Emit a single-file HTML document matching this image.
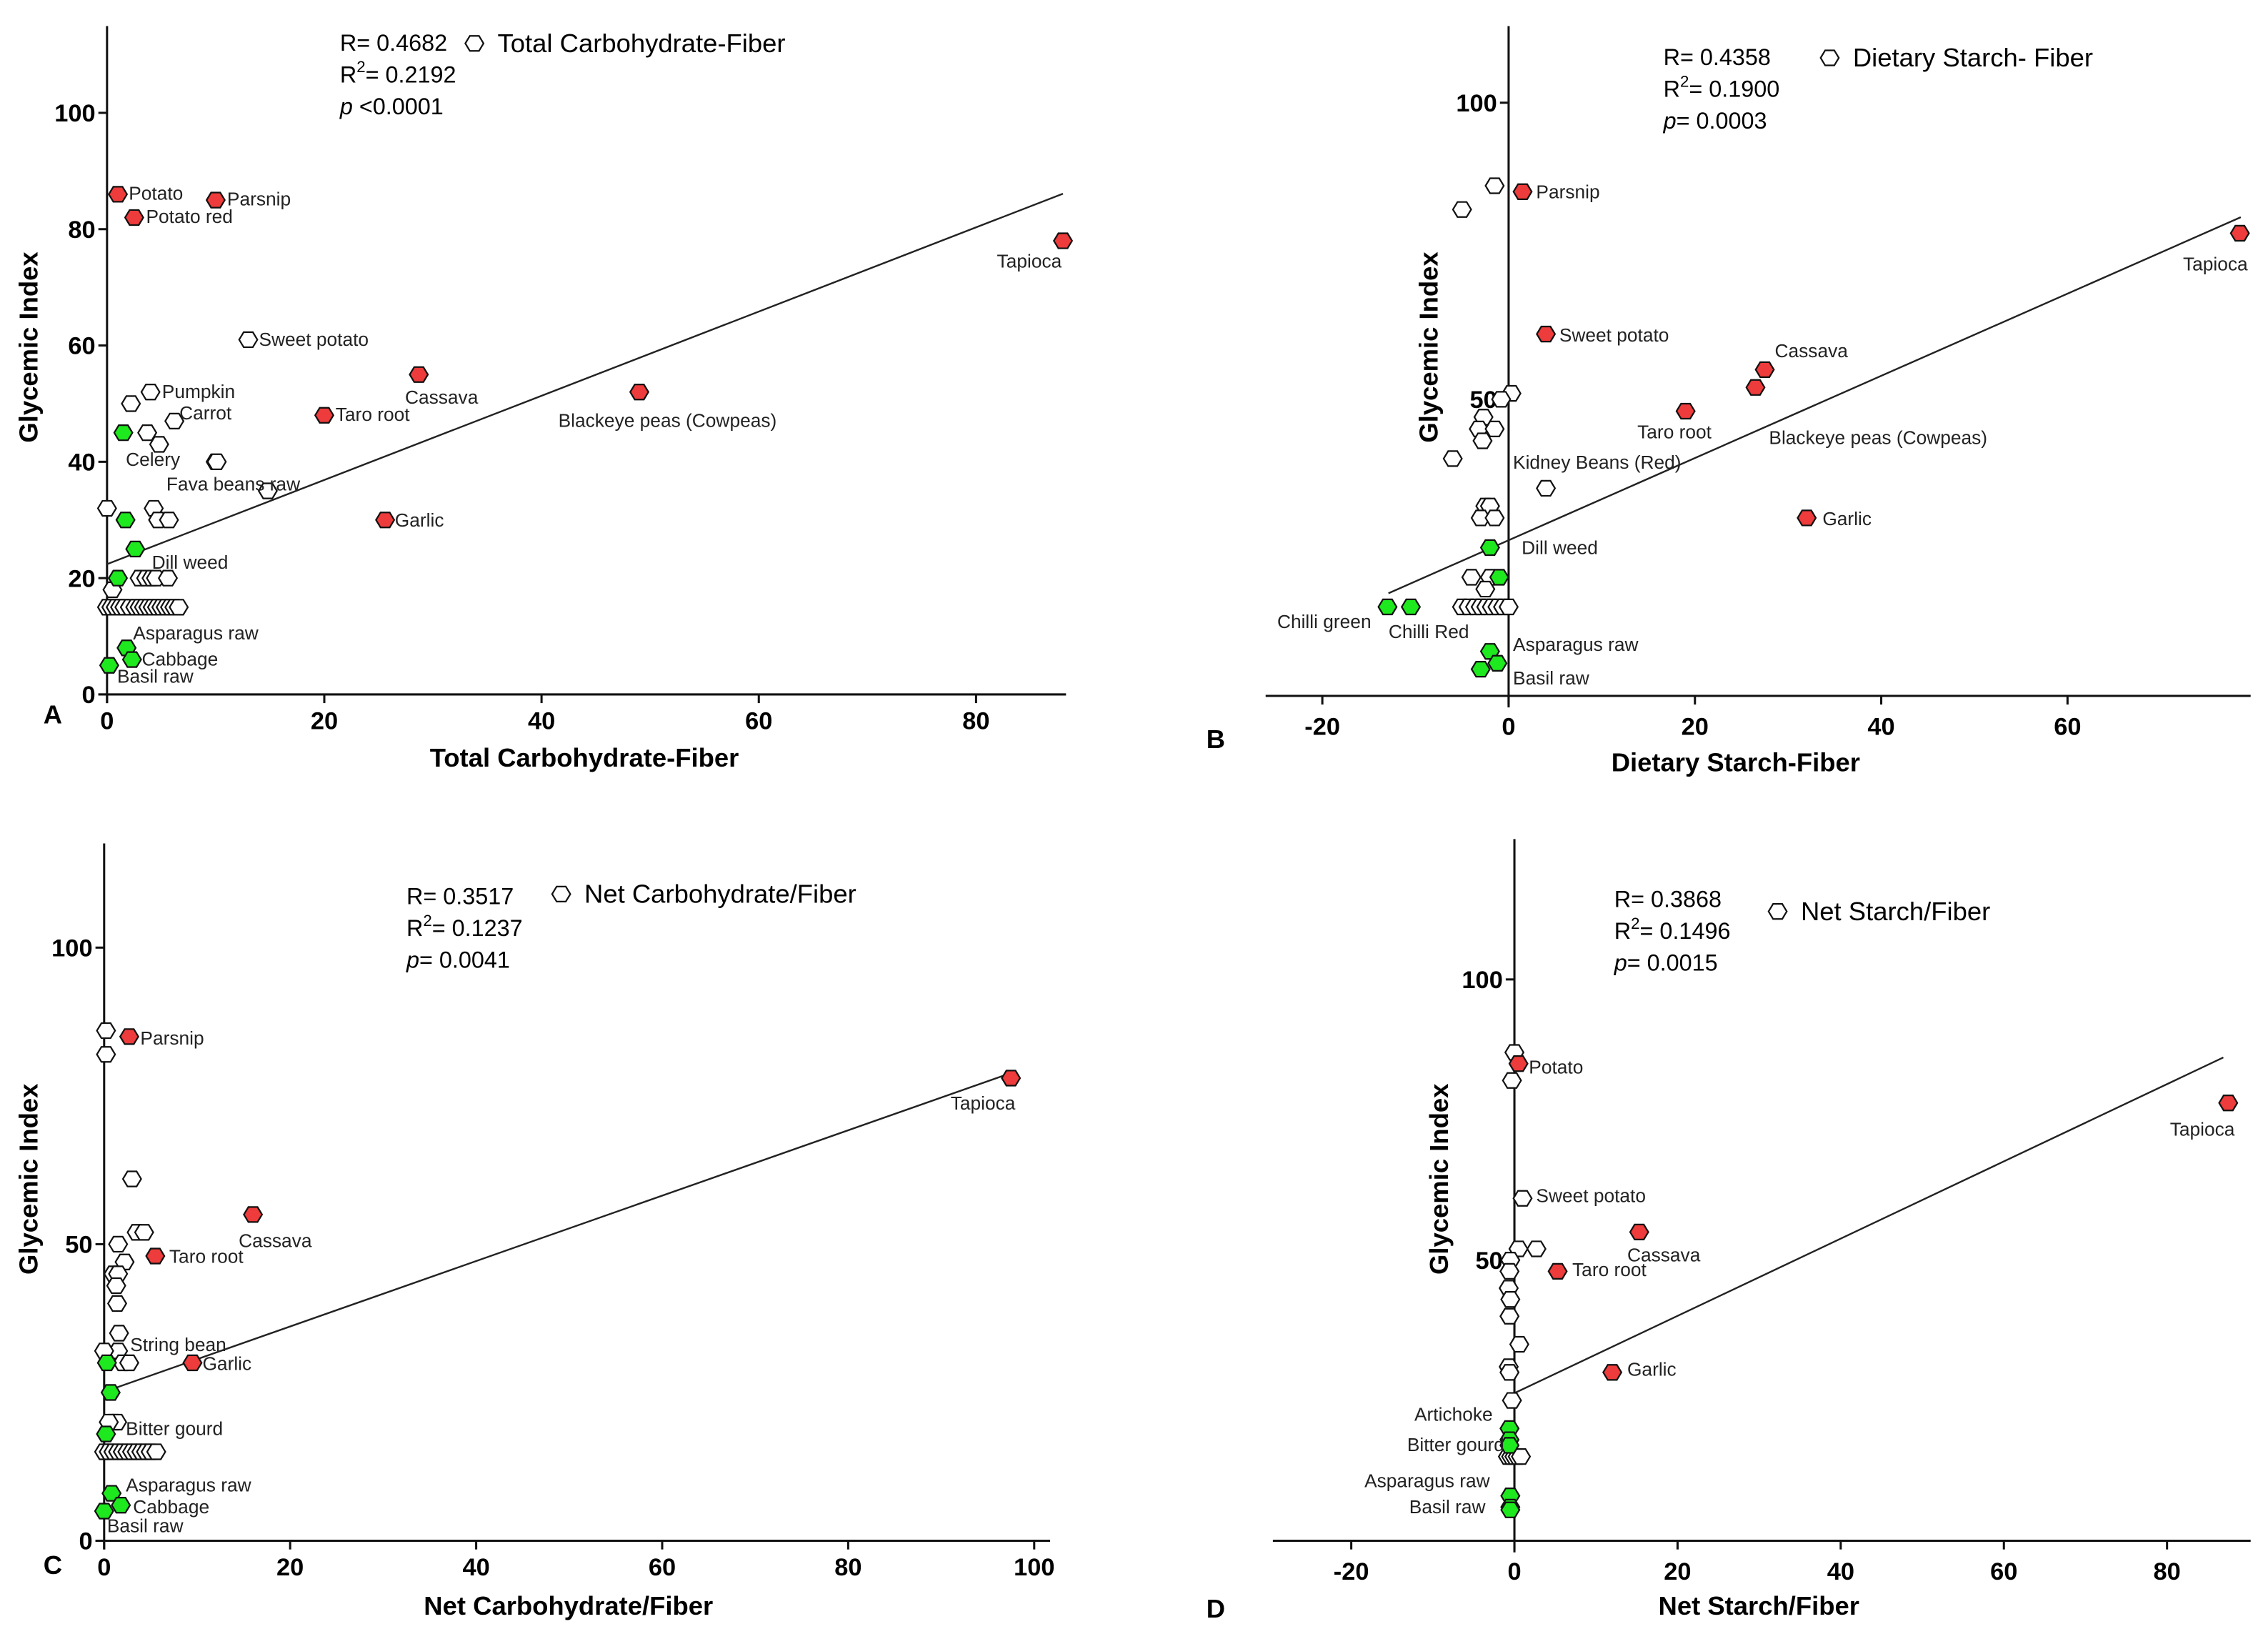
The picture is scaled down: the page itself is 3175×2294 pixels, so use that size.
<!DOCTYPE html>
<html><head><meta charset="utf-8"><style>
html,body{margin:0;padding:0;background:#fff}
svg{display:block}
text{font-family:"Liberation Sans",Arial,sans-serif}
</style></head><body>
<svg id="fig" width="3175" height="2294" viewBox="0 0 1568 1132.9" xmlns="http://www.w3.org/2000/svg"></svg>
<script>
// ---------- DATA ----------
// Panel A: Total Carbohydrate-Fiber
const aRedX=[1,2.5,10,88,28.7,49,20,25.6];
const aRedY=[86,82,85,78,55,52,48,30];
const aRedLbl=["Potato","Potato red","Parsnip","Tapioca","Cassava","Blackeye peas (Cowpeas)","Taro root","Garlic"];
const aWhiteX=[13,4,2.2,6.2,3.7,4.8,10,10.1,14.8,0,4.3,4.7,5.7,0.5,3,3.6,4.1,4.5,5.6,0,0.4,0.8,1.2,1.6,2.1,2.6,3,3.4,3.8,4.2,4.6,5,5.4,5.8,6.2,6.6];
const aWhiteY=[61,52,50,47,45,43,40,40,35,32,32,30,30,18,20,20,20,20,20,15,15,15,15,15,15,15,15,15,15,15,15,15,15,15,15,15];
const aGreenX=[1.5,1.7,2.6,1,1.8,2.3,0.2];
const aGreenY=[45,30,25,20,8,6,5];
const aStats=["R= 0.4682","0.2192","p <0.0001","Total Carbohydrate-Fiber"];
// Panel B: Dietary Starch-Fiber
const bRedX=[1.5,78.5,4,27.5,26.5,19,32];
const bRedY=[85,78,61,55,52,48,30];
const bWhiteX=[-1.5,-5,0.3,-0.8,-2.7,-3.2,-1.5,-2.8,-6,4,-2.5,-2,-3,-1.5,-4,-2,-2.5,-5,-4.3,-3.6,-3,-2.4,-1.8,-1.2,-0.6,0];
const bWhiteY=[86,82,51,50,47,45,45,43,40,35,32,32,30,30,20,20,18,15,15,15,15,15,15,15,15,15];
const bGreenX=[-13,-10.5,-2,-1,-2,-1.2,-3];
const bGreenY=[15,15,25,20,7.5,5.5,4.5];
const bStats=["R= 0.4358","0.1900","p= 0.0003","Dietary Starch- Fiber"];
// Panel C: Net Carbohydrate/Fiber
const cRedX=[2.7,97.5,16,5.5,9.5];
const cRedY=[85,78,55,48,30];
const cWhiteX=[0.2,0.2,3,3.5,4.3,1.5,2.2,1,1.5,1.3,1.4,1.6,1.5,0,2,2.7,1,1.4,0.5,0,0.5,1,1.5,2,2.5,3,3.5,4,4.5,5,5.6];
const cWhiteY=[86,82,61,52,52,50,47,45,45,43,40,35,32,32,30,30,20,20,20,15,15,15,15,15,15,15,15,15,15,15,15];
const cGreenX=[0.3,0.7,0.2,0.8,1.8,0];
const cGreenY=[30,25,18,8,6,5];
const cStats=["R= 0.3517","0.1237","p= 0.0041","Net Carbohydrate/Fiber"];
// Panel D: Net Starch/Fiber
const dRedX=[0.5,87.5,15.3,5.3,12];
const dRedY=[85,78,55,48,30];
const dWhiteX=[0,-0.3,1,0.5,2.7,-0.5,-0.6,-0.7,-0.5,-0.6,0.6,-0.7,-0.6,-0.3,-0.8,-0.4,0,0.4,0.8];
const dWhiteY=[87,82,61,52,52,50,48,45,43,40,35,31,30,25,15,15,15,15,15];
const dGreenX=[-0.6,-0.6,-0.6,-0.5,-0.5,-0.5];
const dGreenY=[20,18,17,8,6,5.5];
const dStats=["R= 0.3868","0.1496","p= 0.0015","Net Starch/Fiber"];
// regression lines [x0,y0,x1,y1]
const aFit=[0,22.4,88,86.1], bFit=[-12.9,17.3,78.6,80.7], cFit=[0,25.1,97.4,78.8], dFit=[0,26.3,86.9,86.1];

// ---------- DRAW ----------
const NS="http://www.w3.org/2000/svg";
const svg=document.getElementById('fig');
function mk(tag,attrs,parent,txt){const e=document.createElementNS(NS,tag);for(const k in attrs)e.setAttribute(k,attrs[k]);if(txt!==undefined)e.textContent=txt;(parent||svg).appendChild(e);return e;}
function hex(cx,cy,fill,g){const rx=6.3,ry=5.2;const p=[[cx-rx,cy],[cx-rx/2,cy-ry],[cx+rx/2,cy-ry],[cx+rx,cy],[cx+rx/2,cy+ry],[cx-rx/2,cy+ry]].map(q=>q.join(',')).join(' ');
 const e=mk('polygon',{points:p,fill:fill,stroke:'#111','stroke-width':1.1},g);return e;}

function panel(cfg){
 const g=mk('g',{});
 
 
 const sx=v=>cfg.x0px+(v-cfg.xzero)*cfg.kx;
 const sy=v=>cfg.y0px-v*cfg.ky;
 const xa=mk('line',{x1:cfg.xaxL,y1:cfg.y0px,x2:cfg.xaxR,y2:cfg.y0px,stroke:'#111','stroke-width':1.5},g);
 
 const ya=mk('line',{x1:sx(0),y1:cfg.yaxT,x2:sx(0),y2:cfg.y0px+(cfg.yExt||0),stroke:'#111','stroke-width':1.5},g);
 
 cfg.xt.forEach(t=>{const X=sx(t);mk('line',{x1:X,y1:cfg.y0px,x2:X,y2:cfg.y0px+6,stroke:'#111','stroke-width':1.5},g);
   const tl=mk('text',{x:X,y:cfg.y0px+cfg.xtdy,'text-anchor':'middle','font-size':17,'font-weight':'bold'},g,String(t));
   });
 cfg.yt.forEach(t=>{const Y=sy(t);const X0=sx(0);mk('line',{x1:X0-6,y1:Y,x2:X0,y2:Y,stroke:'#111','stroke-width':1.5},g);
   const tl=mk('text',{x:X0-8,y:Y+6,'text-anchor':'end','font-size':17,'font-weight':'bold'},g,String(t));
   });
 const f=cfg.fit;
 const rl=mk('line',{x1:sx(f[0]),y1:sy(f[1]),x2:sx(f[2]),y2:sy(f[3]),stroke:'#222','stroke-width':1.2},g);
 
 cfg.wx.forEach((v,i)=>{const h=hex(sx(v),sy(cfg.wy[i]),'#fff',g);});
 cfg.gx.forEach((v,i)=>{const h=hex(sx(v),sy(cfg.gy[i]),'#1ee81e',g);});
 cfg.rx.forEach((v,i)=>{const h=hex(sx(v),sy(cfg.ry[i]),'#ee3b3b',g);});
 cfg.labels.forEach(l=>{const t=mk('text',{x:l[1],y:l[2],'font-size':13,'text-anchor':l[3]||'start',fill:'#222'},g,l[0]);
   });
 const s=cfg.stats,sp=cfg.statPos;
 let t=mk('text',{x:sp[0],y:sp[1],'font-size':16},g,s[0]);
 t=mk('text',{x:sp[0],y:sp[1]+22,'font-size':16},g);
 mk('tspan',{},t,'R');mk('tspan',{'font-size':11,dy:-7},t,'2');mk('tspan',{dy:7},t,'= '+s[1]);
 t=mk('text',{x:sp[0],y:sp[1]+44,'font-size':16},g);
 const pp=s[2].split(' ');mk('tspan',{'font-style':'italic'},t,pp[0].replace('=',''));mk('tspan',{},t,(s[2].indexOf('=')>0?'= ':' ')+pp.slice(1).join(' '));
 const lh=hex(sp[2],sp[3],'#fff',g);
 t=mk('text',{x:sp[2]+16,y:sp[3]+6,'font-size':18},g,s[3]);
 t=mk('text',{x:cfg.xtitle[0],y:cfg.xtitle[1],'text-anchor':'middle','font-size':18,'font-weight':'bold'},g,cfg.xtitle[2]);
 
 t=mk('text',{x:0,y:0,'text-anchor':'middle','font-size':18,'font-weight':'bold',transform:`translate(${cfg.ytitle[0]},${cfg.ytitle[1]}) rotate(-90)`},g,'Glycemic Index');
 
 t=mk('text',{x:cfg.letter[0],y:cfg.letter[1],'font-size':18,'font-weight':'bold'},g,cfg.id);
 
}

panel({id:'A',xzero:0,x0px:74,kx:7.51,y0px:480,ky:4.02,xaxL:68,xaxR:737,yaxT:18,yExt:6,xtdy:24,
 xt:[0,20,40,60,80],yt:[0,20,40,60,80,100],fit:aFit,rx:aRedX,ry:aRedY,wx:aWhiteX,wy:aWhiteY,gx:aGreenX,gy:aGreenY,
 labels:[["Potato",89,138],["Potato red",101,154],["Parsnip",157,142],["Tapioca",734,185,'end'],["Cassava",280,279],["Blackeye peas (Cowpeas)",386,295],["Taro root",232,291],["Garlic",273,364],
  ["Sweet potato",179,239],["Pumpkin",112,275],["Carrot",124,290],["Celery",87,322],["Fava beans raw",115,339],["Dill weed",105,393],["Asparagus raw",92,442],["Cabbage",98,460],["Basil raw",81,472]],
 stats:aStats,statPos:[235,35,328,30],xtitle:[404,530,'Total Carbohydrate-Fiber'],ytitle:[26,240],letter:[30,500]});

panel({id:'B',xzero:0,x0px:1043,kx:6.44,y0px:481,ky:4.1,xaxL:875,xaxR:1556,yaxT:18,yExt:8,xtdy:27,
 xt:[-20,0,20,40,60],yt:[50,100],fit:bFit,rx:bRedX,ry:bRedY,wx:bWhiteX,wy:bWhiteY,gx:bGreenX,gy:bGreenY,
 labels:[["Parsnip",1062,137],["Tapioca",1554,187,'end'],["Sweet potato",1078,236],["Cassava",1227,247],["Taro root",1132,303],["Blackeye peas (Cowpeas)",1223,307],["Garlic",1260,363],
  ["Kidney Beans (Red)",1046,324],["Dill weed",1052,383],["Chilli green",883,434],["Chilli Red",960,441],["Asparagus raw",1046,450],["Basil raw",1046,473]],
 stats:bStats,statPos:[1150,45,1265,40],xtitle:[1200,533,'Dietary Starch-Fiber'],ytitle:[994,240],letter:[834,517]});

panel({id:'C',xzero:0,x0px:72,kx:6.43,y0px:1065,ky:4.1,xaxL:66,xaxR:726,yaxT:583,yExt:6,xtdy:24,
 xt:[0,20,40,60,80,100],yt:[0,50,100],fit:cFit,rx:cRedX,ry:cRedY,wx:cWhiteX,wy:cWhiteY,gx:cGreenX,gy:cGreenY,
 labels:[["Parsnip",97,722],["Tapioca",702,767,'end'],["Cassava",165,862],["Taro root",117,873],["Garlic",140,947],["String bean",90,934],["Bitter gourd",87,992],["Asparagus raw",87,1031],["Cabbage",92,1046],["Basil raw",74,1059]],
 stats:cStats,statPos:[281,625,388,618],xtitle:[393,1116,'Net Carbohydrate/Fiber'],ytitle:[26,815],letter:[30,1088]});

panel({id:'D',xzero:0,x0px:1047,kx:5.64,y0px:1065,ky:3.88,xaxL:880,xaxR:1556,yaxT:580,yExt:8,xtdy:27,
 xt:[-20,0,20,40,60,80],yt:[50,100],fit:dFit,rx:dRedX,ry:dRedY,wx:dWhiteX,wy:dWhiteY,gx:dGreenX,gy:dGreenY,
 labels:[["Potato",1057,742],["Tapioca",1545,785,'end'],["Sweet potato",1062,831],["Cassava",1125,872],["Taro root",1087,882],["Garlic",1125,951],
  ["Artichoke",1032,982,'end'],["Bitter gourd",1040,1003,'end'],["Asparagus raw",1030,1028,'end'],["Basil raw",1027,1046,'end']],
 stats:dStats,statPos:[1116,627,1229,630],xtitle:[1216,1116,'Net Starch/Fiber'],ytitle:[1001,815],letter:[834,1118]});
</script>
</body></html>
